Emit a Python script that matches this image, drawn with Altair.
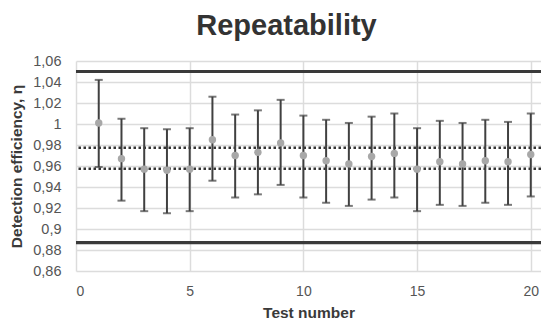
import altair as alt
import pandas as pd

tests = list(range(1, 21))
eff = [1.001, 0.967, 0.957, 0.956, 0.957, 0.985, 0.970, 0.973, 0.982, 0.970,
       0.965, 0.962, 0.969, 0.972, 0.957, 0.964, 0.962, 0.965, 0.964, 0.971]
upper = [1.042, 1.005, 0.996, 0.995, 0.996, 1.026, 1.009, 1.013, 1.023, 1.008,
         1.004, 1.001, 1.007, 1.010, 0.996, 1.003, 1.001, 1.004, 1.002, 1.010]
lower = [0.959, 0.927, 0.917, 0.915, 0.917, 0.946, 0.930, 0.933, 0.942, 0.930,
         0.925, 0.922, 0.928, 0.930, 0.917, 0.923, 0.922, 0.925, 0.923, 0.931]
solid_levels = [1.05, 0.887]
dotted_levels = [0.9775, 0.9575]
y_ticks = [0.86, 0.88, 0.9, 0.92, 0.94, 0.96, 0.98, 1.0, 1.02, 1.04, 1.06]
x_ticks = [0, 5, 10, 15, 20]

df = pd.DataFrame({"test": tests, "eff": eff, "up": upper, "lo": lower})
solid_df = pd.DataFrame({"y": solid_levels})
dot_df = pd.DataFrame({"y": dotted_levels})

FONT = "Liberation Sans"

x_scale = alt.Scale(domain=[0, 20.45], nice=False, zero=False)
y_scale = alt.Scale(domain=[0.86, 1.06], nice=False, zero=False)

x_axis = alt.Axis(values=x_ticks, title="Test number", grid=True, domain=False, ticks=False,
                  labelPadding=13, titlePadding=7, labelFontSize=14, titleFontSize=15.5,
                  titleFontWeight="bold", labelColor="#555555", titleColor="#3a3a3a",
                  gridColor="#dcdcdc", gridWidth=1.5, labelFont=FONT, titleFont=FONT,
                  labelOverlap=False)
y_axis = alt.Axis(values=y_ticks, title="Detection efficiency, η", grid=True, domain=False, ticks=False,
                  labelPadding=15, titlePadding=8, labelFontSize=14.5, titleFontSize=15.5,
                  titleFontWeight="bold", labelColor="#555555", titleColor="#3a3a3a",
                  gridColor="#dcdcdc", gridWidth=1.5, labelFont=FONT, titleFont=FONT,
                  labelOverlap=False, labelBound=False,
                  labelExpr="replace(format(datum.value, '.2~f'), '.', ',')")

base = alt.Chart(df)

bars = base.mark_rule(color="#404040", strokeWidth=2).encode(
    x=alt.X("test:Q", scale=x_scale, axis=x_axis),
    y=alt.Y("lo:Q", scale=y_scale, axis=y_axis),
    y2="up:Q",
)
cap_hi = base.mark_tick(color="#404040", orient="horizontal", size=8, thickness=2).encode(
    x=alt.X("test:Q", scale=x_scale, axis=x_axis), y=alt.Y("up:Q", scale=y_scale, axis=y_axis))
cap_lo = base.mark_tick(color="#404040", orient="horizontal", size=8, thickness=2).encode(
    x=alt.X("test:Q", scale=x_scale, axis=x_axis), y=alt.Y("lo:Q", scale=y_scale, axis=y_axis))
pts = base.mark_circle(color="#a8a8a8", size=55, opacity=1).encode(
    x=alt.X("test:Q", scale=x_scale, axis=x_axis), y=alt.Y("eff:Q", scale=y_scale, axis=y_axis))

solid = alt.Chart(solid_df).mark_rule(color="#3a3a3a", strokeWidth=3.2).encode(
    y=alt.Y("y:Q", scale=y_scale, axis=y_axis))
dotted = alt.Chart(dot_df).mark_rule(color="#333333", strokeWidth=2.5, strokeDash=[2.5, 2.5]).encode(
    y=alt.Y("y:Q", scale=y_scale, axis=y_axis))

chart = alt.layer(solid, dotted, bars, cap_hi, cap_lo, pts).properties(
    width=465, height=210,
    title=alt.Title("Repeatability", fontSize=29, fontWeight="bold", font=FONT,
                    color="#333333", offset=12, dx=-22),
    autosize=alt.AutoSizeParams(type="none"),
    padding={"left": 68, "top": 53, "right": 0, "bottom": 54},
).configure_view(stroke=None).configure_axisY(labelOverlap=False)

chart.save("out.html", embed_options={"renderer": "svg", "actions": False})
